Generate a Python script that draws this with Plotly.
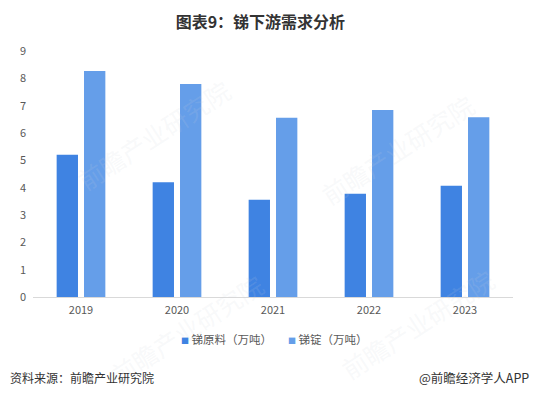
import plotly.graph_objects as go

years = ["2019", "2020", "2021", "2022", "2023"]
raw_material = [5.2, 4.2, 3.56, 3.78, 4.07]
ingot = [8.27, 7.79, 6.56, 6.84, 6.58]
series_names = ["锑原料（万吨）", "锑锭（万吨）"]
y_ticks = [0, 1, 2, 3, 4, 5, 6, 7, 8, 9]

c_dark = "#3f83e2"
c_light = "#659ee9"
font_fam = "Noto Sans CJK SC, Microsoft YaHei, sans-serif"

fig = go.Figure()
fig.add_trace(go.Bar(x=years, y=raw_material, name=series_names[0],
                     marker=dict(color=c_dark, line=dict(width=0)), showlegend=False))
fig.add_trace(go.Bar(x=years, y=ingot, name=series_names[1],
                     marker=dict(color=c_light, line=dict(width=0)), showlegend=False))

# faint watermarks
for (wx, wy) in [(0.25, 0.66), (0.76, 0.60), (0.32, -0.13), (0.80, -0.11)]:
    fig.add_annotation(xref="paper", yref="paper", x=wx, y=wy, text="前瞻产业研究院",
                       showarrow=False, textangle=-33, xanchor="center", yanchor="middle",
                       font=dict(size=25, color="rgba(205,210,220,0.14)", family=font_fam))

fig.update_layout(
    width=538, height=399,
    margin=dict(l=33, r=25, t=51, b=101.5, autoexpand=False),
    paper_bgcolor="white", plot_bgcolor="white",
    barmode="group", bargap=0.43, bargroupgap=0.22,
    showlegend=False,
    title=dict(text="<b>图表9：锑下游需求分析</b>", x=0.484, xanchor="center",
               y=0.945, yanchor="middle",
               font=dict(size=16, color="#333333", family=font_fam)),
    font=dict(family=font_fam, color="#595959", size=11),
    xaxis=dict(showline=True, linecolor="#d9d9d9", linewidth=1, ticks="",
               tickfont=dict(size=11, color="#595959"), showgrid=False,
               automargin=False, ticklabelstandoff=3),
    yaxis=dict(range=[0, 9], tickvals=y_ticks, showgrid=False, zeroline=False,
               showline=False, ticks="", ticklabelstandoff=6, automargin=False,
               tickfont=dict(size=11, color="#595959")),
)

# legend built from annotations (small square markers)
legend_x = [0.304, 0.527]
for nm, col, lx in zip(series_names, [c_dark, c_light], legend_x):
    fig.add_annotation(xref="paper", yref="paper", x=lx, y=-0.172, xanchor="left",
                       yanchor="middle", showarrow=False,
                       text=f'<span style="color:{col};font-size:8px">■</span> {nm}',
                       font=dict(size=11.5, color="#595959", family=font_fam))

fig.add_annotation(xref="paper", yref="paper", x=-0.052, y=-0.327, xanchor="left",
                   yanchor="middle", text="资料来源：前瞻产业研究院", showarrow=False,
                   font=dict(size=12, color="#333333", family=font_fam))
fig.add_annotation(xref="paper", yref="paper", x=1.0375, y=-0.327, xanchor="right",
                   yanchor="middle", text="@前瞻经济学人APP", showarrow=False,
                   font=dict(size=12.5, color="#333333", family=font_fam))

fig.write_html("out.html", config={"displayModeBar": False},
               post_script="document.body.style.margin='0px';document.body.style.padding='0px';")
